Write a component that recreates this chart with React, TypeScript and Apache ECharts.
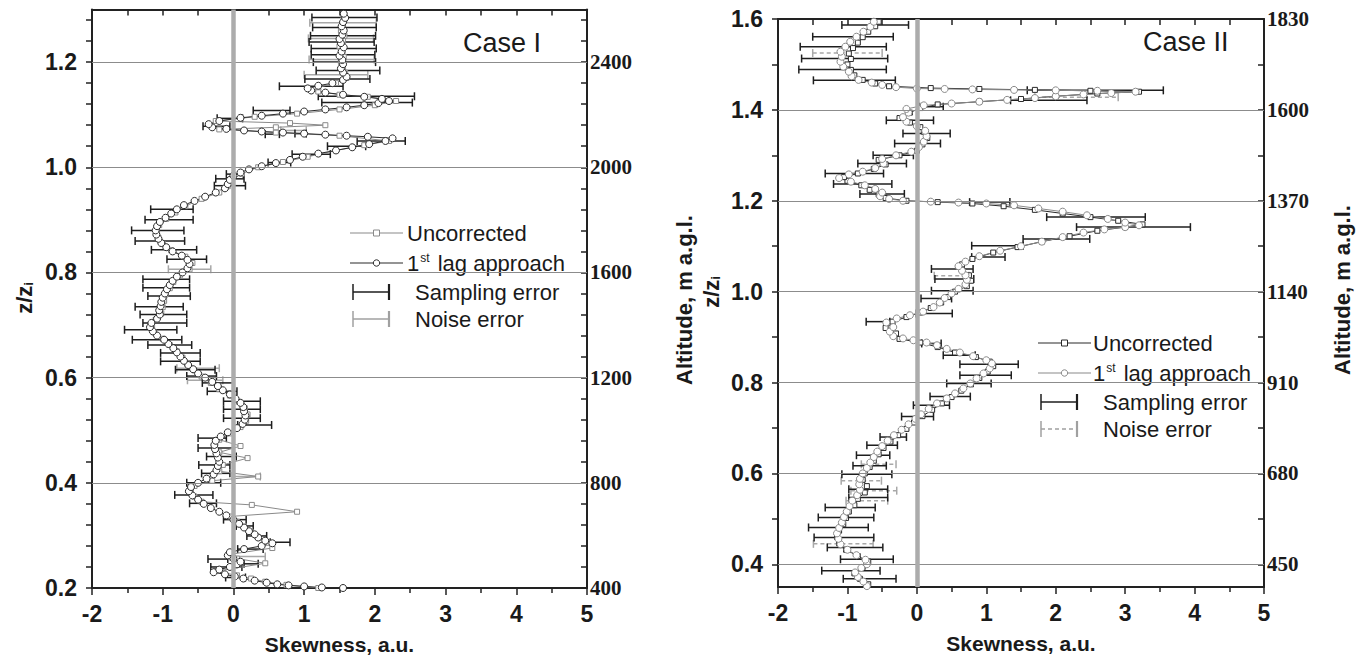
import React, { useEffect, useRef } from 'react';
import * as echarts from 'echarts';

// ---------- Case I data: [skewness, z/zi] ----------
const case1Lag: number[][] = [
  [1.55,0.200],[1.25,0.201],[1.0,0.203],[0.78,0.205],[0.62,0.207],[0.47,0.210],[0.3,0.214],[0.14,0.218],[0.02,0.222],[-0.12,0.226],
  [-0.28,0.230],[-0.2,0.235],[-0.05,0.240],[0.05,0.245],[0.1,0.250],[0.0,0.256],[-0.08,0.262],[-0.05,0.268],[0.15,0.274],[0.4,0.280],
  [0.55,0.285],[0.45,0.290],[0.35,0.296],[0.3,0.302],[0.22,0.308],[0.15,0.315],[0.08,0.322],[0.0,0.330],[-0.1,0.338],[-0.2,0.345],
  [-0.32,0.352],[-0.42,0.360],[-0.5,0.368],[-0.58,0.376],[-0.63,0.384],[-0.6,0.392],[-0.5,0.400],[-0.38,0.408],[-0.28,0.416],[-0.24,0.424],
  [-0.22,0.432],[-0.2,0.440],[-0.22,0.448],[-0.24,0.456],[-0.26,0.464],[-0.27,0.472],[-0.25,0.480],[-0.18,0.488],[-0.08,0.496],[0.05,0.504],
  [0.13,0.512],[0.16,0.520],[0.17,0.528],[0.15,0.536],[0.14,0.544],[0.1,0.552],[0.03,0.560],[-0.05,0.568],[-0.15,0.576],[-0.22,0.584],
  [-0.3,0.592],[-0.4,0.600],[-0.5,0.608],[-0.57,0.616],[-0.64,0.624],[-0.7,0.632],[-0.75,0.640],[-0.8,0.648],[-0.85,0.656],[-0.92,0.664],
  [-0.98,0.672],[-1.08,0.680],[-1.14,0.688],[-1.18,0.696],[-1.16,0.704],[-1.08,0.712],[-1.04,0.720],[-1.05,0.728],[-1.03,0.736],[-1.02,0.744],
  [-1.0,0.752],[-0.97,0.760],[-0.94,0.768],[-0.9,0.776],[-0.86,0.784],[-0.8,0.792],[-0.72,0.800],[-0.65,0.808],[-0.62,0.816],[-0.65,0.824],
  [-0.73,0.832],[-0.86,0.840],[-0.95,0.848],[-1.02,0.856],[-1.06,0.864],[-1.09,0.872],[-1.1,0.880],[-1.08,0.888],[-1.04,0.896],[-0.96,0.904],
  [-0.88,0.912],[-0.8,0.920],[-0.7,0.928],[-0.55,0.936],[-0.4,0.944],[-0.25,0.952],[-0.12,0.960],[-0.08,0.968],[-0.05,0.976],[0.0,0.984],
  [0.1,0.990],[0.22,0.996],[0.4,1.002],[0.6,1.008],[0.8,1.014],[0.98,1.020],[1.2,1.026],[1.45,1.032],[1.68,1.038],[1.92,1.044],
  [2.15,1.050],[2.25,1.055],[1.9,1.058],[1.6,1.060],[1.3,1.062],[1.0,1.064],[0.7,1.066],[0.4,1.068],[0.15,1.070],[-0.1,1.073],
  [-0.3,1.076],[-0.35,1.082],[-0.2,1.088],[0.1,1.094],[0.4,1.098],[0.7,1.102],[1.0,1.106],[1.3,1.110],[1.6,1.114],[1.85,1.118],
  [2.05,1.122],[2.2,1.126],[2.1,1.130],[1.85,1.134],[1.55,1.138],[1.3,1.142],[1.1,1.146],[1.05,1.150],[1.2,1.155],[1.4,1.160],
  [1.55,1.166],[1.6,1.172],[1.55,1.180],[1.52,1.188],[1.55,1.196],[1.54,1.204],[1.5,1.212],[1.53,1.220],[1.56,1.228],[1.52,1.236],
  [1.5,1.244],[1.54,1.252],[1.56,1.260],[1.53,1.268],[1.55,1.276],[1.58,1.284],[1.56,1.292],
];
const case1Unc: number[][] = [
  [1.2,0.200],[0.75,0.206],[0.45,0.212],[0.25,0.218],[0.05,0.224],[-0.25,0.232],[0.45,0.247],[0.05,0.256],[-0.05,0.264],[0.55,0.276],
  [0.5,0.286],[0.35,0.296],[0.25,0.306],[0.15,0.316],[0.05,0.326],[-0.05,0.336],[0.9,0.345],[0.26,0.358],[-0.45,0.364],[-0.55,0.374],
  [-0.6,0.384],[-0.55,0.394],[-0.3,0.404],[0.35,0.412],[-0.2,0.422],[-0.15,0.434],[0.2,0.447],[-0.2,0.458],[0.1,0.470],[-0.2,0.482],
  [-0.05,0.494],[0.1,0.506],[0.18,0.518],[0.2,0.530],[0.16,0.542],[0.08,0.554],[-0.05,0.566],[-0.2,0.578],[-0.32,0.590],[-0.45,0.602],
  [-0.55,0.614],[-0.65,0.626],[-0.72,0.638],[-0.8,0.650],[-0.9,0.662],[-1.0,0.674],[-1.12,0.686],[-1.15,0.698],[-1.1,0.710],[-1.02,0.722],
  [-1.0,0.734],[-0.98,0.746],[-0.96,0.758],[-0.9,0.770],[-0.85,0.782],[-0.76,0.794],[-0.62,0.806],[-0.58,0.818],[-0.68,0.830],[-0.88,0.842],
  [-1.0,0.854],[-1.06,0.866],[-1.08,0.878],[-1.05,0.890],[-0.95,0.902],[-0.82,0.914],[-0.68,0.926],[-0.45,0.940],[-0.2,0.952],[-0.08,0.964],
  [-0.02,0.976],[0.12,0.988],[0.35,1.000],[0.7,1.010],[1.05,1.020],[1.45,1.032],[1.85,1.042],[2.2,1.050],[1.5,1.060],[0.6,1.066],
  [-0.2,1.072],[0.6,1.076],[1.3,1.080],[0.8,1.084],[-0.25,1.088],[0.3,1.096],[0.9,1.102],[1.5,1.110],[2.0,1.118],[2.3,1.126],
  [1.9,1.134],[1.5,1.138],[1.2,1.144],[1.2,1.152],[1.45,1.160],[1.6,1.170],[1.58,1.180],[1.55,1.190],[1.52,1.200],[1.56,1.210],
  [1.54,1.220],[1.5,1.230],[1.55,1.240],[1.57,1.250],[1.52,1.260],[1.55,1.270],[1.57,1.280],[1.55,1.290],
];
// error bars: [centre, z/zi, half-width]
const case1Sampling: number[][] = [
  [1.57,1.285,0.46],[1.57,1.266,0.45],[1.55,1.25,0.46],[1.53,1.238,0.46],[1.56,1.226,0.46],[1.55,1.214,0.45],[1.57,1.2,0.44],[1.62,1.184,0.45],
  [1.47,1.168,0.46],[1.1,1.154,0.45],[1.88,1.135,0.68],[1.89,1.123,0.64],[0.54,1.108,0.26],[-0.05,1.093,0.18],[-0.24,1.078,0.19],[0.55,1.063,0.1],
  [0.95,1.064,0.08],[2.09,1.05,0.34],[1.6,1.04,0.27],[1.1,1.025,0.27],[0.65,1.009,0.16],[0.02,0.987,0.12],[-0.05,0.978,0.2],[-0.05,0.965,0.22],
  [-0.87,0.92,0.3],[-0.91,0.9,0.34],[-1.07,0.88,0.37],[-1.04,0.86,0.35],[-0.84,0.843,0.32],[-0.66,0.825,0.28],[-0.95,0.787,0.33],[-0.95,0.771,0.33],
  [-0.91,0.755,0.3],[-1.05,0.735,0.34],[-0.99,0.72,0.33],[-0.97,0.704,0.31],[-1.17,0.691,0.37],[-1.08,0.672,0.35],[-0.9,0.662,0.31],[-0.75,0.647,0.28],
  [-0.75,0.631,0.28],[-0.54,0.615,0.28],[-0.45,0.603,0.21],[-0.22,0.59,0.22],[-0.16,0.574,0.21],[0.12,0.555,0.26],[0.12,0.54,0.26],[0.12,0.523,0.26],
  [0.3,0.51,0.24],[-0.3,0.485,0.2],[-0.25,0.466,0.25],[-0.17,0.45,0.21],[-0.27,0.434,0.22],[-0.25,0.418,0.2],[-0.42,0.4,0.24],[-0.56,0.377,0.27],
  [-0.43,0.361,0.19],[0.02,0.33,0.16],[0.16,0.318,0.12],[0.33,0.299,0.14],[0.66,0.287,0.14],[0.24,0.274,0.18],[-0.22,0.255,0.14],[0.25,0.246,0.1],
  [-0.1,0.24,0.22],[0.03,0.22,0.14],
];
const case1Noise: number[][] = [
  [1.55,1.275,0.47],[1.52,1.245,0.46],[1.53,1.205,0.46],[1.45,1.176,0.45],[0.85,1.07,0.18],[-0.62,0.806,0.3],
  [-0.5,0.618,0.3],[-0.4,0.595,0.25],[0.18,0.412,0.2],[0.2,0.26,0.25],
];

// ---------- Case II data: [skewness, z/zi] ----------
const case2Lag: number[][] = [
  [-0.72,0.352],[-0.77,0.362],[-0.85,0.372],[-0.89,0.382],[-0.8,0.392],[-0.72,0.400],[-0.74,0.410],[-0.87,0.420],[-1.0,0.432],[-1.1,0.444],
  [-1.13,0.456],[-1.15,0.468],[-1.12,0.480],[-1.08,0.492],[-1.05,0.504],[-1.01,0.516],[-0.97,0.528],[-0.93,0.540],[-0.86,0.552],[-0.82,0.564],
  [-0.83,0.576],[-0.82,0.588],[-0.78,0.600],[-0.72,0.612],[-0.67,0.624],[-0.62,0.636],[-0.57,0.648],[-0.5,0.660],[-0.42,0.672],[-0.33,0.684],
  [-0.22,0.696],[-0.12,0.708],[-0.02,0.720],[0.06,0.730],[0.17,0.742],[0.29,0.754],[0.43,0.765],[0.55,0.776],[0.67,0.787],[0.77,0.798],
  [0.86,0.809],[0.96,0.820],[1.05,0.831],[1.08,0.842],[1.0,0.849],[0.81,0.858],[0.62,0.866],[0.43,0.874],[0.29,0.882],[0.14,0.888],
  [-0.05,0.893],[-0.2,0.897],[-0.34,0.902],[-0.39,0.912],[-0.34,0.922],[-0.44,0.932],[-0.29,0.941],[-0.1,0.948],[0.09,0.956],[0.24,0.966],
  [0.33,0.976],[0.4,0.986],[0.5,0.996],[0.6,1.006],[0.7,1.016],[0.72,1.026],[0.7,1.036],[0.65,1.046],[0.6,1.056],[0.7,1.066],
  [0.9,1.078],[1.2,1.090],[1.5,1.100],[1.8,1.110],[2.1,1.120],[2.4,1.130],[2.7,1.137],[3.0,1.142],[3.2,1.146],[3.0,1.152],
  [2.75,1.160],[2.45,1.168],[2.1,1.176],[1.75,1.183],[1.4,1.190],[1.0,1.194],[0.6,1.196],[0.2,1.198],[-0.2,1.200],[-0.4,1.204],
  [-0.53,1.210],[-0.5,1.218],[-0.6,1.226],[-0.75,1.234],[-0.95,1.242],[-1.12,1.250],[-0.98,1.258],[-0.78,1.264],[-0.6,1.272],[-0.48,1.282],
  [-0.5,1.292],[-0.3,1.300],[-0.08,1.308],[0.03,1.318],[0.1,1.330],[0.14,1.342],[0.12,1.354],[0.0,1.364],[-0.15,1.374],[-0.2,1.384],
  [-0.12,1.394],[-0.15,1.402],[0.1,1.410],[0.5,1.414],[0.9,1.418],[1.3,1.422],[1.7,1.426],[2.0,1.430],[2.4,1.434],[2.8,1.437],
  [3.15,1.440],[2.6,1.442],[2.0,1.443],[1.4,1.444],[0.8,1.445],[0.4,1.446],[0.0,1.447],[-0.3,1.450],[-0.5,1.455],[-0.65,1.460],
  [-0.84,1.466],[-0.94,1.474],[-0.98,1.484],[-1.06,1.495],[-1.1,1.506],[-1.08,1.517],[-1.1,1.528],[-1.03,1.539],[-0.96,1.550],[-0.87,1.561],
  [-0.77,1.572],[-0.67,1.583],[-0.62,1.594],
];
const case2Unc: number[][] = [
  [-0.7,0.356],[-0.82,0.368],[-0.9,0.380],[-0.78,0.394],[-0.7,0.406],[-0.85,0.418],[-1.02,0.432],[-1.12,0.446],[-1.15,0.460],[-1.12,0.474],
  [-1.06,0.488],[-1.02,0.502],[-0.98,0.516],[-0.9,0.530],[-0.85,0.544],[-0.75,0.558],[-0.72,0.572],[-0.78,0.586],[-0.75,0.600],[-0.68,0.614],
  [-0.62,0.628],[-0.55,0.642],[-0.48,0.656],[-0.38,0.670],[-0.27,0.684],[-0.15,0.698],[-0.04,0.712],[0.08,0.726],[0.22,0.740],[0.36,0.754],
  [0.5,0.768],[0.64,0.782],[0.78,0.796],[0.9,0.810],[1.02,0.824],[1.1,0.836],[1.05,0.846],[0.85,0.856],[0.55,0.866],[0.3,0.878],
  [0.05,0.888],[-0.25,0.896],[-0.3,0.908],[-0.45,0.920],[-0.35,0.934],[-0.15,0.944],[0.05,0.954],[0.2,0.964],[0.35,0.976],[0.45,0.988],
  [0.55,1.000],[0.72,1.012],[0.78,1.024],[0.75,1.036],[0.65,1.048],[0.65,1.060],[0.8,1.072],[1.1,1.086],[1.45,1.098],[1.8,1.110],
  [2.2,1.122],[2.6,1.134],[3.0,1.142],[3.25,1.148],[2.9,1.156],[2.5,1.164],[2.1,1.172],[1.7,1.180],[1.25,1.188],[0.8,1.194],
  [0.3,1.197],[-0.15,1.200],[-0.45,1.206],[-0.55,1.214],[-0.68,1.224],[-0.8,1.234],[-1.0,1.244],[-1.05,1.252],[-0.85,1.260],[-0.62,1.270],
  [-0.45,1.280],[-0.55,1.290],[-0.25,1.300],[0.0,1.310],[0.08,1.324],[0.15,1.338],[0.1,1.352],[0.05,1.362],[-0.1,1.372],[-0.25,1.382],
  [-0.1,1.394],[0.05,1.404],[0.3,1.412],[0.9,1.418],[1.5,1.424],[2.0,1.430],[2.6,1.436],[3.2,1.440],[2.5,1.442],[1.7,1.444],
  [0.9,1.446],[0.2,1.448],[-0.4,1.452],[-0.6,1.458],[-0.78,1.466],[-0.9,1.476],[-0.95,1.488],[-1.0,1.500],[-0.95,1.512],[-0.98,1.524],
  [-0.92,1.536],[-0.85,1.548],[-0.78,1.560],[-0.7,1.572],[-0.6,1.584],[-0.55,1.594],
];
const case2Sampling: number[][] = [
  [-0.6,1.587,0.48],[-0.92,1.561,0.58],[-1.06,1.539,0.62],[-1.04,1.513,0.62],[-1.07,1.489,0.63],[-0.9,1.465,0.59],[2.57,1.443,0.98],[1.9,1.421,0.55],
  [0.21,1.407,0.17],[-0.1,1.377,0.34],[0.14,1.348,0.34],[0.01,1.326,0.33],[-0.34,1.3,0.29],[-0.5,1.282,0.35],[-0.9,1.26,0.42],[-0.78,1.237,0.42],
  [-0.5,1.215,0.32],[1.05,1.197,0.29],[2.58,1.164,0.71],[3.12,1.142,0.82],[2.01,1.116,0.48],[1.16,1.101,0.37],[1.03,1.076,0.24],[0.51,1.05,0.3],
  [0.54,1.028,0.28],[0.51,1.002,0.3],[0.28,0.985,0.22],[0.25,0.952,0.26],[-0.56,0.934,0.17],[0.21,0.886,0.14],[0.61,0.86,0.23],[1.04,0.84,0.42],
  [0.99,0.816,0.37],[0.75,0.798,0.32],[0.48,0.769,0.29],[0.21,0.75,0.26],[0.01,0.725,0.23],[-0.34,0.68,0.19],[-0.5,0.662,0.22],[-0.63,0.64,0.24],
  [-0.68,0.617,0.24],[-0.72,0.598,0.36],[-0.7,0.565,0.28],[-0.7,0.547,0.28],[-0.96,0.525,0.36],[-1.02,0.503,0.4],[-1.13,0.481,0.43],[-1.05,0.459,0.43],
  [-0.89,0.437,0.4],[-0.72,0.411,0.38],[-0.95,0.386,0.42],[-0.68,0.368,0.38],
];
const case2Noise: number[][] = [
  [-0.8,0.584,0.29],[-0.62,0.562,0.33],[-0.72,0.54,0.3],[-1.06,0.445,0.43],[0.5,1.035,0.25],[-1.0,1.525,0.5],[2.3,1.428,0.6],[-0.55,0.62,0.25],
];

// ---------- axes ----------
const case1LabelZ = [0.2, 0.4, 0.6, 0.8, 1.0, 1.2];
const case1TickZ = [0.2,0.24,0.28,0.32,0.36,0.4,0.44,0.48,0.52,0.56,0.6,0.64,0.68,0.72,0.76,0.8,0.84,0.88,0.92,0.96,1.0,1.04,1.08,1.12,1.16,1.2,1.24,1.28];
const case1AltLabels = ['400', '800', '1200', '1600', '2000', '2400'];
const case1GridZ = [0.4, 0.6, 0.8, 1.0, 1.2];
const case2LabelZ = [0.4, 0.6, 0.8, 1.0, 1.2, 1.4, 1.6];
const case2TickZ = [0.4,0.5,0.6,0.7,0.8,0.9,1.0,1.1,1.2,1.3,1.4,1.5,1.6];
const case2AltLabels = ['450', '680', '910', '1140', '1370', '1600', '1830'];
const case2GridZ = [0.4, 0.6, 0.8, 1.0, 1.2, 1.4];

const SANS = '"Liberation Sans", Arial, sans-serif';
const SERIF = '"Liberation Serif", "Times New Roman", serif';
const AXIS_COLOR = '#222';

function errRender(color: string, width: number, dash?: number[]) {
  return (_params: any, api: any) => {
    const c = api.value(0), z = api.value(1), h = api.value(2);
    const a = api.coord([c - h, z]);
    const b = api.coord([c + h, z]);
    const capStyle = { stroke: color, lineWidth: width };
    return {
      type: 'group',
      children: [
        { type: 'line', shape: { x1: a[0], y1: a[1], x2: b[0], y2: b[1] }, style: { stroke: color, lineWidth: width, lineDash: dash } },
        { type: 'line', shape: { x1: a[0], y1: a[1] - 4, x2: a[0], y2: a[1] + 4 }, style: capStyle },
        { type: 'line', shape: { x1: b[0], y1: b[1] - 4, x2: b[0], y2: b[1] + 4 }, style: capStyle },
      ],
    };
  };
}

function xAxes(grid: number) {
  return [
    {
      type: 'value', gridIndex: grid, position: 'bottom', min: -2, max: 5, interval: 1,
      axisLine: { show: true, onZero: false, lineStyle: { color: AXIS_COLOR, width: 2 } },
      axisTick: { show: true, length: 7, lineStyle: { color: AXIS_COLOR, width: 1.5 } },
      minorTick: { show: true, splitNumber: 2, length: 5, lineStyle: { color: AXIS_COLOR, width: 1.5 } },
      axisLabel: { fontFamily: SANS, fontWeight: 'bold', fontSize: 23, color: '#1a1a1a', margin: 14 },
      splitLine: { show: false },
      name: 'Skewness, a.u.', nameLocation: 'middle', nameGap: 46,
      nameTextStyle: { fontFamily: SANS, fontWeight: 'bold', fontSize: 21, color: '#1a1a1a' },
    },
    {
      type: 'value', gridIndex: grid, position: 'top', min: -2, max: 5, interval: 0.5,
      axisLine: { show: true, onZero: false, lineStyle: { color: AXIS_COLOR, width: 2 } },
      axisTick: { show: true, inside: true, length: 6, lineStyle: { color: AXIS_COLOR, width: 1.5 } },
      axisLabel: { show: false },
      splitLine: { show: false },
    },
  ];
}

function yAxes(grid: number, min: number, max: number, labelZ: number[], tickZ: number[], alt: string[]) {
  const base = labelZ[0];
  return [
    {
      type: 'value', gridIndex: grid, position: 'left', min, max,
      axisLine: { show: true, onZero: false, lineStyle: { color: AXIS_COLOR, width: 2 } },
      axisTick: { show: true, length: 6, customValues: tickZ, lineStyle: { color: AXIS_COLOR, width: 1.5 } },
      axisLabel: {
        customValues: labelZ, formatter: (v: number) => v.toFixed(1),
        fontFamily: SANS, fontWeight: 'bold', fontSize: 23, color: '#1a1a1a', margin: 15,
      },
      splitLine: { show: false },
    },
    {
      type: 'value', gridIndex: grid, position: 'right', min, max,
      axisLine: { show: true, onZero: false, lineStyle: { color: AXIS_COLOR, width: 2 } },
      axisTick: { show: true, inside: true, length: 6, customValues: tickZ, lineStyle: { color: AXIS_COLOR, width: 1.5 } },
      axisLabel: {
        customValues: labelZ, formatter: (v: number) => alt[Math.round((v - base) / 0.2)] ?? '',
        fontFamily: SERIF, fontWeight: 'bold', fontSize: 21, color: '#1a1a1a', margin: 3,
      },
      splitLine: { show: false },
    },
  ];
}

function seriesFor(
  grid: number, lag: number[][], unc: number[][], samp: number[][], noise: number[][],
  gridZ: number[], uncColor: string, lagColor: string, noiseDash?: number[],
) {
  const xi = grid * 2, yi = grid * 2;
  return [
    {
      type: 'custom', xAxisIndex: xi, yAxisIndex: yi, data: noise,
      encode: { x: 0, y: 1 }, renderItem: errRender('#a8a8a8', 1.5, noiseDash), silent: true,
      markLine: {
        silent: true, symbol: ['none', 'none'], label: { show: false },
        data: [
          ...gridZ.map((z) => ({ yAxis: z, lineStyle: { color: '#8c8c8c', width: 1, type: 'solid' } })),
          { xAxis: 0, lineStyle: { color: '#acacac', width: 4.5, type: 'solid' } },
        ],
      },
    },
    {
      type: 'line', xAxisIndex: xi, yAxisIndex: yi, data: unc, symbol: 'rect', symbolSize: 5,
      itemStyle: { color: '#fff', borderColor: uncColor, borderWidth: 1 },
      lineStyle: { color: uncColor, width: 1 }, silent: true,
    },
    {
      type: 'custom', xAxisIndex: xi, yAxisIndex: yi, data: samp,
      encode: { x: 0, y: 1 }, renderItem: errRender('#1e1e1e', 1.5), silent: true,
    },
    {
      type: 'line', xAxisIndex: xi, yAxisIndex: yi, data: lag, symbol: 'circle', symbolSize: 7,
      itemStyle: { color: '#fff', borderColor: lagColor, borderWidth: 1 },
      lineStyle: { color: lagColor, width: 1 }, silent: true,
    },
  ];
}

function legend(x0: number, y0: number, textX: number, errTextX: number, uncColor: string, lagColor: string, noiseDash?: number[]) {
  const font = { fontFamily: SANS, fontSize: 22, fill: '#1a1a1a' };
  const rows = [y0, y0 + 30, y0 + 59, y0 + 86];
  const iconW = 53;
  const errW = 36;
  const els: any[] = [
    { type: 'line', shape: { x1: x0, y1: rows[0], x2: x0 + iconW, y2: rows[0] }, style: { stroke: uncColor, lineWidth: 1.2 } },
    { type: 'rect', shape: { x: x0 + iconW / 2 - 3, y: rows[0] - 3, width: 6, height: 6 }, style: { fill: '#fff', stroke: uncColor, lineWidth: 1 } },
    { type: 'text', x: textX, y: rows[0], style: { ...font, text: 'Uncorrected', verticalAlign: 'middle' } },
    { type: 'line', shape: { x1: x0, y1: rows[1], x2: x0 + iconW, y2: rows[1] }, style: { stroke: lagColor, lineWidth: 1.2 } },
    { type: 'circle', shape: { cx: x0 + iconW / 2, cy: rows[1], r: 3.2 }, style: { fill: '#fff', stroke: lagColor, lineWidth: 1 } },
    {
      type: 'text', x: textX, y: rows[1],
      style: {
        ...font, text: '1{sup|st} lag approach', verticalAlign: 'middle',
        rich: { sup: { fontFamily: SANS, fontSize: 12, fill: '#1a1a1a', verticalAlign: 'top', padding: [0, 2, 10, 1] } },
      },
    },
  ];
  const errRow = (y: number, color: string, dash?: number[]) => [
    { type: 'line', shape: { x1: x0 + 3, y1: y, x2: x0 + 3 + errW, y2: y }, style: { stroke: color, lineWidth: 1.5, lineDash: dash } },
    { type: 'line', shape: { x1: x0 + 3, y1: y - 8, x2: x0 + 3, y2: y + 8 }, style: { stroke: color, lineWidth: 1.5 } },
    { type: 'line', shape: { x1: x0 + 3 + errW, y1: y - 8, x2: x0 + 3 + errW, y2: y + 8 }, style: { stroke: color, lineWidth: 2.2 } },
  ];
  els.push(...errRow(rows[2], '#1e1e1e'));
  els.push({ type: 'text', x: errTextX, y: rows[2], style: { ...font, text: 'Sampling error', verticalAlign: 'middle' } });
  els.push(...errRow(rows[3], '#a0a0a0', noiseDash));
  els.push({ type: 'text', x: errTextX, y: rows[3], style: { ...font, text: 'Noise error', verticalAlign: 'middle' } });
  return els;
}

function vTitle(x: number, y: number, text: string, rich?: any) {
  return {
    type: 'text', x, y, rotation: Math.PI / 2,
    style: {
      text, fontFamily: SANS, fontWeight: 'bold', fontSize: 22, fill: '#1a1a1a',
      align: 'center', verticalAlign: 'middle', rich,
    },
  };
}

const subRich = { sub: { fontFamily: SANS, fontWeight: 'bold', fontSize: 13, fill: '#1a1a1a', verticalAlign: 'bottom', padding: [8, 0, 0, 0] } };

export default function App() {
  const ref = useRef<HTMLDivElement>(null);
  useEffect(() => {
    if (!ref.current) return;
    const chart = echarts.init(ref.current, null, { renderer: 'svg' });
    const option: any = {
      animation: false,
      backgroundColor: '#fff',
      grid: [
        { left: 92, top: 9.5, width: 495, height: 578.5 },
        { left: 778, top: 19, width: 486, height: 568 },
      ],
      xAxis: [...xAxes(0), ...xAxes(1)],
      yAxis: [
        ...yAxes(0, 0.2, 1.3, case1LabelZ, case1TickZ, case1AltLabels),
        ...yAxes(1, 0.35, 1.6, case2LabelZ, case2TickZ, case2AltLabels),
      ],
      series: [
        ...seriesFor(0, case1Lag, case1Unc, case1Sampling, case1Noise, case1GridZ, '#8a8a8a', '#2a2a2a'),
        ...seriesFor(1, case2Lag, case2Unc, case2Sampling, case2Noise, case2GridZ, '#2a2a2a', '#8a8a8a', [4, 3]),
      ],
      graphic: [
        { type: 'text', x: 463, y: 43, style: { text: 'Case I', fontFamily: SANS, fontSize: 27, fill: '#1a1a1a', verticalAlign: 'middle' } },
        { type: 'text', x: 1143, y: 42, style: { text: 'Case II', fontFamily: SANS, fontSize: 27, fill: '#1a1a1a', verticalAlign: 'middle' } },
        ...legend(350, 233, 407, 415, '#8a8a8a', '#2a2a2a'),
        ...legend(1038, 343, 1093, 1103, '#2a2a2a', '#8a8a8a', [4, 3]),
        vTitle(24, 298, 'z/z{sub|i}', subRich),
        vTitle(711, 292, 'z/z{sub|i}', subRich),
        vTitle(684, 300, 'Altitude, m a.g.l.'),
        vTitle(1342, 290, 'Altitude, m a.g.l.'),
      ],
    };
    chart.setOption(option);
    return () => chart.dispose();
  }, []);
  return <div ref={ref} style={{ position: 'fixed', left: 0, top: 0, width: 1360, height: 661, background: '#fff' }} />;
}
